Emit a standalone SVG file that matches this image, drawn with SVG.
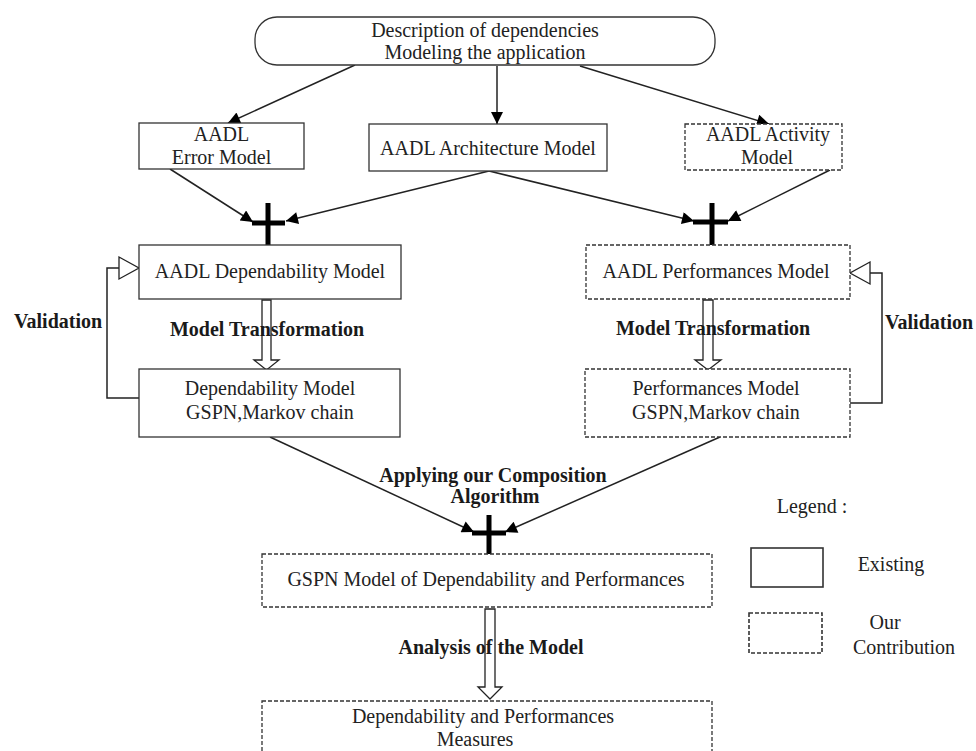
<svg xmlns="http://www.w3.org/2000/svg" width="976" height="751" viewBox="0 0 976 751">
<defs>
<style>
.box{fill:#fff;stroke:#333;stroke-width:1.3}
.dash{fill:#fff;stroke:#333;stroke-width:1.3;stroke-dasharray:4 2}
.t{font-family:"Liberation Serif","Times New Roman",serif;font-size:20px;fill:#222;text-anchor:middle}
.b{font-family:"Liberation Serif","Times New Roman",serif;font-size:20px;font-weight:bold;fill:#1a1a1a;text-anchor:middle}
.ln{fill:none;stroke:#222;stroke-width:1.5}
.plus{stroke:#000;stroke-width:5;fill:none}
.hollow{fill:#fff;stroke:#222;stroke-width:1.3}
</style>
<marker id="ah" viewBox="0 0 10 10" refX="10" refY="5" markerWidth="15" markerHeight="12" markerUnits="userSpaceOnUse" orient="auto">
<path d="M0,0 L10,5 L0,10 z" fill="#000"/>
</marker>
</defs>
<rect width="976" height="751" fill="#fff"/>

<g id="connectors">
<line class="ln" x1="355" y1="65" x2="228" y2="123" marker-end="url(#ah)"/>
<line class="ln" x1="497" y1="66" x2="497" y2="124" marker-end="url(#ah)"/>
<line class="ln" x1="580" y1="66" x2="769" y2="124" marker-end="url(#ah)"/>
<line class="ln" x1="170" y1="169" x2="253" y2="222" marker-end="url(#ah)"/>
<line class="ln" x1="489" y1="171" x2="286" y2="221" marker-end="url(#ah)"/>
<line class="ln" x1="489" y1="171" x2="694" y2="221" marker-end="url(#ah)"/>
<line class="ln" x1="830" y1="170" x2="728" y2="221" marker-end="url(#ah)"/>
<line class="ln" x1="270" y1="437" x2="474" y2="532" marker-end="url(#ah)"/>
<line class="ln" x1="720" y1="437" x2="505" y2="532" marker-end="url(#ah)"/>
<path class="plus" d="M268,203 V245 M252,223 H285"/>
<path class="plus" d="M712,203 V245 M693,222 H728"/>
<path class="plus" d="M489,515 V554 M472,533 H506"/>
<polygon class="hollow" points="262,300 271,300 271,360 279,360 266.5,370 254,360 262,360"/>
<polygon class="hollow" points="703,300 713,300 713,360 721,360 708,370 695,360 703,360"/>
<polygon class="hollow" points="485,609 495,609 495,687 502,687 490,699 478,687 485,687"/>
<polyline class="ln" points="139,398 107,398 107,268 119,268"/>
<polygon class="hollow" points="119,257 139,268 119,279"/>
<polyline class="ln" points="850,403 882,403 882,273 870,273"/>
<polygon class="hollow" points="870,262 850,273 870,284"/>
</g>

<g id="n-desc">
<rect class="box" x="255" y="17" width="460" height="48" rx="22" ry="22"/>
<text class="t" x="485" y="37">Description of dependencies</text>
<text class="t" x="485" y="59">Modeling the application</text>
</g>
<g id="n-error">
<rect class="box" x="139" y="123" width="165" height="46"/>
<text class="t" x="221.5" y="141">AADL</text>
<text class="t" x="221.5" y="164">Error Model</text>
</g>
<g id="n-arch">
<rect class="box" x="369" y="124" width="238" height="47"/>
<text class="t" x="488" y="155">AADL Architecture Model</text>
</g>
<g id="n-activity">
<rect class="dash" x="685" y="124" width="157" height="46"/>
<text class="t" x="768" y="141">AADL Activity</text>
<text class="t" x="767" y="164">Model</text>
</g>
<g id="n-aadl-dep">
<rect class="box" x="139" y="245" width="262" height="54"/>
<text class="t" x="270" y="278">AADL Dependability Model</text>
</g>
<g id="n-aadl-perf">
<rect class="dash" x="586" y="245" width="264" height="54"/>
<text class="t" x="716" y="278">AADL Performances Model</text>
</g>
<g id="n-dep-model">
<rect class="box" x="139" y="369" width="261" height="68"/>
<text class="t" x="270" y="395">Dependability Model</text>
<text class="t" x="270" y="419">GSPN,Markov chain</text>
</g>
<g id="n-perf-model">
<rect class="dash" x="585" y="369" width="265" height="68"/>
<text class="t" x="716" y="395">Performances Model</text>
<text class="t" x="716" y="419">GSPN,Markov chain</text>
</g>
<g id="n-gspn">
<rect class="dash" x="262" y="554" width="450" height="53"/>
<text class="t" x="486" y="586">GSPN Model of Dependability and Performances</text>
</g>
<g id="n-measures">
<rect class="dash" x="262" y="701" width="450" height="70"/>
<text class="t" x="483" y="723">Dependability and Performances</text>
<text class="t" x="475" y="746">Measures</text>
</g>

<g id="labels">
<text class="b" x="58" y="328">Validation</text>
<text class="b" x="267" y="336">Model Transformation</text>
<text class="b" x="713" y="335">Model Transformation</text>
<text class="b" x="929" y="329">Validation</text>
<text class="b" x="493" y="482">Applying our Composition</text>
<text class="b" x="495" y="503">Algorithm</text>
<text class="b" x="491" y="654">Analysis of the Model</text>
</g>

<g id="legend">
<text class="t" x="812" y="513">Legend :</text>
<rect class="box" x="751" y="548" width="72" height="39" style="stroke-width:1.6"/>
<text class="t" x="891" y="571">Existing</text>
<rect class="dash" x="749" y="613" width="73" height="40" style="stroke-width:1.6"/>
<text class="t" x="885" y="629">Our</text>
<text class="t" x="904" y="654">Contribution</text>
</g>
</svg>
